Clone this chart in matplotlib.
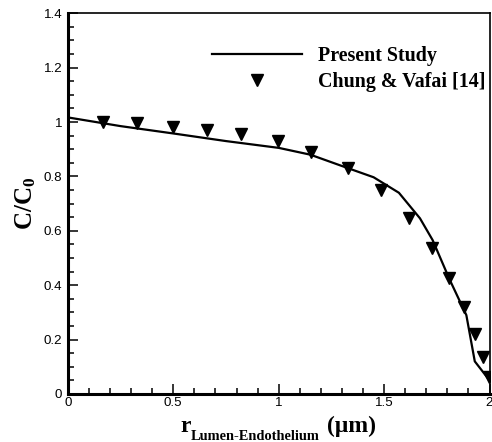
import numpy as np
import matplotlib
matplotlib.use("Agg")
import matplotlib.pyplot as plt
from matplotlib.ticker import MultipleLocator, FuncFormatter

# mathtext in a bold serif, like the original
plt.rcParams["mathtext.fontset"] = "custom"
plt.rcParams["mathtext.rm"] = "Liberation Serif:bold"
plt.rcParams["mathtext.bf"] = "Liberation Serif:bold"
plt.rcParams["mathtext.it"] = "Liberation Serif:bold"

# present study (solid line)
r_line = [0.0, 0.25, 0.5, 0.75, 1.0, 1.15, 1.33, 1.45, 1.57, 1.67, 1.73, 1.81, 1.89, 1.93, 2.0]
c_line = [1.017, 0.985, 0.958, 0.93, 0.905, 0.88, 0.83, 0.797, 0.74, 0.646, 0.566, 0.422, 0.29, 0.12, 0.05]

# Chung & Vafai [14] (triangles)
r_ref = [0.167, 0.33, 0.5, 0.662, 0.823, 0.995, 1.154, 1.327, 1.487, 1.617,
         1.727, 1.81, 1.878, 1.933, 1.97, 1.997]
c_ref = [1.001, 0.995, 0.983, 0.971, 0.956, 0.932, 0.891, 0.832, 0.75, 0.646,
         0.536, 0.428, 0.321, 0.219, 0.137, 0.064]

W, H = 492, 442
fig = plt.figure(figsize=(W / 100, H / 100), dpi=100)
ax = fig.add_axes([0.138, 0.1086, 0.857, 0.8614])

ax.plot(r_line, c_line, color="black", lw=1.6, label="Present Study")
ax.plot(r_ref, c_ref, ls="none", marker="v", ms=8.5, color="black",
        label="Chung & Vafai [14]")

ax.set_xlim(0, 2)
ax.set_ylim(0, 1.4)

ax.xaxis.set_major_locator(MultipleLocator(0.5))
ax.xaxis.set_minor_locator(MultipleLocator(0.1))
ax.yaxis.set_major_locator(MultipleLocator(0.2))
ax.yaxis.set_minor_locator(MultipleLocator(0.05))
fmt = FuncFormatter(lambda v, p: "%g" % round(v, 2))
ax.xaxis.set_major_formatter(fmt)
ax.yaxis.set_major_formatter(fmt)

ax.tick_params(which="both", direction="in", top=False, right=False,
               labelsize=9.6, width=1.1, labelfontfamily="Liberation Sans")
ax.tick_params(which="major", length=7.5)
ax.tick_params(which="minor", length=4)
ax.tick_params(axis="y", pad=4)
ax.tick_params(axis="x", pad=2)

ax.spines["left"].set_linewidth(2.2)
ax.spines["bottom"].set_linewidth(2.2)
ax.spines["top"].set_linewidth(1.2)
ax.spines["right"].set_linewidth(1.2)

ax.set_ylabel(r"$\mathbf{C/C_0}$", fontsize=18, labelpad=4)

# x label: r with a large subscript, then the unit
serif = dict(family="Liberation Serif", weight="bold")
fig.text(180 / W, 1 - 432 / H, "r", fontsize=17, va="baseline", **serif)
fig.text(191 / W, 1 - 440 / H, "Lumen-Endothelium", fontsize=10.4, va="baseline", **serif)
fig.text(327 / W, 1 - 432 / H, "(\u03bcm)", fontsize=17, va="baseline", **serif)

ax.legend(loc="upper right", bbox_to_anchor=(1.019, 0.945), frameon=False,
          handlelength=4.5, handletextpad=0.8, labelspacing=0.3,
          borderaxespad=0.2,
          prop={"family": "Liberation Serif", "weight": "bold", "size": 14.4})

fig.savefig("out.png", dpi=100)
